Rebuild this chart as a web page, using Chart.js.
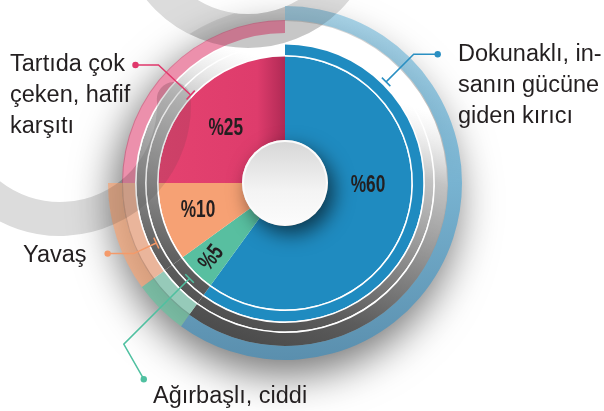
<!DOCTYPE html>
<html>
<head>
<meta charset="utf-8">
<script src="https://cdn.jsdelivr.net/npm/chart.js@4.4.0/dist/chart.umd.min.js"></script>
<style>
  html, body { margin: 0; padding: 0; background: #fff; }
  #wrap { width: 604px; height: 411px; position: relative; }
</style>
</head>
<body>
<div id="wrap"><canvas id="tones"></canvas></div>
<script>
// slices, clockwise from 12 o'clock
const categories = ['Dokunaklı, insanın gücüne giden kırıcı', 'Ağırbaşlı, ciddi', 'Yavaş', 'Tartıda çok çeken, hafif karşıtı'];
const shares = [60, 5, 10, 25];
const shareLabels = shares.map(v => '%' + v);
const captionLines = [
  ['Dokunaklı, in-', 'sanın gücüne', 'giden kırıcı'],
  ['Ağırbaşlı, ciddi'],
  ['Yavaş'],
  ['Tartıda çok', 'çeken, hafif', 'karşıtı']
];

const mainColors = ['#1f8bc0', '#58bfa0', '#f6a174', '#e23f70'];
const lineColors = ['#2a8fc2', '#4fc0a0', '#f49a6a', '#e0376b'];

const TWO_PI = Math.PI * 2;
const RAD = Math.PI / 180;

function centerOf(chart) {
  const a = chart.chartArea;
  return { x: (a.left + a.right) / 2, y: (a.top + a.bottom) / 2 };
}

function polar(c, deg, r) {
  return { x: c.x + r * Math.sin(deg * RAD), y: c.y - r * Math.cos(deg * RAD) };
}

function shadeVector(chart) {
  const c = centerOf(chart);
  return chart.ctx.createLinearGradient(c.x + 70, c.y - 150, c.x - 30, c.y + 160);
}

// gray "3d" shading under the rings, light top-right, dark bottom
function shade(chart) {
  if (!chart.chartArea) return '#bbb';
  const g = shadeVector(chart);
  g.addColorStop(0, 'rgba(255,255,255,0)');
  g.addColorStop(0.16, 'rgba(220,220,220,0)');
  g.addColorStop(0.36, 'rgba(190,190,190,0.92)');
  g.addColorStop(0.62, '#8c8c8c');
  g.addColorStop(0.85, '#5c5c5c');
  g.addColorStop(1, '#4c4c4c');
  return g;
}

function whiteLine(chart) {
  if (!chart.chartArea) return '#fff';
  const g = shadeVector(chart);
  g.addColorStop(0, 'rgba(255,255,255,0)');
  g.addColorStop(0.2, 'rgba(255,255,255,0)');
  g.addColorStop(0.4, '#ffffff');
  g.addColorStop(1, '#ffffff');
  return g;
}

function paleBlue(chart) {
  if (!chart.chartArea) return '#8cc3dd';
  const c = centerOf(chart);
  const g = chart.ctx.createLinearGradient(c.x, c.y - 177, c.x, c.y + 177);
  g.addColorStop(0, 'rgba(120,188,220,0.6)');
  g.addColorStop(0.5, '#78b3d1');
  g.addColorStop(1, '#5a8fae');
  return g;
}

function pinkMain(chart) {
  if (!chart.chartArea) return mainColors[3];
  const c = centerOf(chart);
  const g = chart.ctx.createLinearGradient(c.x - 126, 0, c.x, 0);
  g.addColorStop(0, '#e4426f');
  g.addColorStop(0.78, '#de3c6c');
  g.addColorStop(1, '#b02a55');
  return g;
}

const rings = [
  { weight: 14, color: (ch, i) => [paleBlue(ch), 'rgba(110,190,160,0.8)', 'rgba(242,165,122,0.75)', 'rgba(0,0,0,0)'][i] },
  { weight: 13, color: (ch, i) => [shade(ch), 'rgba(105,180,155,0.7)', 'rgba(225,150,112,0.7)', 'rgba(222,64,112,0.58)'][i] },
  { weight: 1.5, color: (ch) => whiteLine(ch) },
  { weight: 8.5, color: (ch) => shade(ch) },
  { weight: 1.5, color: (ch) => whiteLine(ch) },
  { weight: 10.5, color: (ch, i) => i === 0 ? mainColors[0] : shade(ch) },
  { weight: 1.5, color: (ch, i) => i === 0 ? '#ffffff' : whiteLine(ch) },
  { weight: 83.5, color: (ch, i) => i === 3 ? pinkMain(ch) : mainColors[i] }
];

// background decoration: two wide gray arcs behind the chart
function grayArcs(ctx, c, color) {
  ctx.save();
  ctx.strokeStyle = color;
  ctx.lineWidth = 34;
  ctx.lineCap = 'round';
  ctx.beginPath();
  ctx.arc(c.x - 37, -83, 114, 0, TWO_PI);
  ctx.stroke();
  ctx.beginPath();
  ctx.arc(60, 105, 114, -3 * RAD, 185 * RAD);
  ctx.stroke();
  ctx.restore();
}

const decor = {
  id: 'decor',
  beforeDatasetsDraw(chart) {
    const ctx = chart.ctx;
    const c = centerOf(chart);
    grayArcs(ctx, c, '#dcdcdc');
    // soft drop shadow outside the disc
    ctx.save();
    ctx.beginPath();
    ctx.rect(0, 0, chart.width, chart.height);
    ctx.arc(c.x, c.y, 162, 0, TWO_PI);
    ctx.clip('evenodd');
    ctx.shadowColor = 'rgba(0,0,0,0.55)';
    ctx.shadowBlur = 42;
    ctx.shadowOffsetX = 3000;
    ctx.shadowOffsetY = 20;
    ctx.beginPath();
    ctx.arc(c.x - 3000, c.y, 172, 0, TWO_PI);
    ctx.fillStyle = '#000';
    ctx.fill();
    ctx.restore();
  },
  afterDatasetsDraw(chart, args, opts) {
    const ctx = chart.ctx;
    const main = chart.getDatasetMeta(rings.length - 1);
    const c = { x: main.data[0].x, y: main.data[0].y };
    const r = main.data[0].innerRadius;

    // faint see-through of the gray arcs over the slices
    ctx.save();
    ctx.beginPath();
    ctx.arc(c.x, c.y, 177, 0, TWO_PI);
    ctx.clip();
    grayArcs(ctx, c, 'rgba(60,60,60,0.13)');
    ctx.restore();

    // center disc
    ctx.save();
    ctx.shadowColor = 'rgba(0,0,0,0.6)';
    ctx.shadowBlur = 20;
    ctx.shadowOffsetX = 6;
    ctx.shadowOffsetY = 8;
    ctx.beginPath();
    ctx.arc(c.x, c.y, r, 0, TWO_PI);
    ctx.fillStyle = '#fbfbfb';
    ctx.fill();
    ctx.restore();
    const face = ctx.createLinearGradient(c.x, c.y - r, c.x, c.y + r);
    face.addColorStop(0, '#d6d6d6');
    face.addColorStop(0.6, '#f4f4f4');
    face.addColorStop(1, '#fcfcfc');
    ctx.beginPath();
    ctx.arc(c.x, c.y, r - 2, 0, TWO_PI);
    ctx.fillStyle = face;
    ctx.fill();

    // percent labels, narrow bold face
    ctx.save();
    ctx.fillStyle = '#231f20';
    ctx.font = 'bold 24px "Liberation Sans", Arial, sans-serif';
    ctx.textAlign = 'center';
    ctx.textBaseline = 'middle';
    shareLabels.forEach((txt, i) => {
      const lp = opts.labelPos[i];
      const p = polar(c, lp.angle, lp.r);
      ctx.save();
      ctx.translate(p.x, p.y);
      ctx.rotate((lp.rot || 0) * RAD);
      ctx.scale(0.72, 1);
      ctx.fillText(txt, 0, 1);
      ctx.restore();
    });
    ctx.restore();

    // callout lines
    ctx.save();
    ctx.lineWidth = 1.5;
    opts.callouts.forEach((co, i) => {
      const a = polar(c, co.angle, co.r1);
      const b = polar(c, co.angle, co.r2);
      const e = { x: b.x + co.end[0], y: b.y + co.end[1] };
      const tx = Math.cos(co.angle * RAD) * 6, ty = Math.sin(co.angle * RAD) * 6;
      ctx.strokeStyle = lineColors[i];
      ctx.fillStyle = lineColors[i];
      ctx.beginPath();
      ctx.moveTo(a.x, a.y);
      ctx.lineTo(b.x, b.y);
      ctx.lineTo(e.x, e.y);
      ctx.moveTo(a.x - tx, a.y - ty);
      ctx.lineTo(a.x + tx, a.y + ty);
      ctx.stroke();
      ctx.beginPath();
      ctx.arc(e.x, e.y, 3.2, 0, TWO_PI);
      ctx.fill();
    });
    ctx.restore();

    // category captions
    ctx.save();
    ctx.fillStyle = '#231f20';
    ctx.font = '23.5px "Liberation Sans", Arial, sans-serif';
    ctx.textAlign = 'left';
    ctx.textBaseline = 'alphabetic';
    captionLines.forEach((lines, i) => {
      const cp = opts.captions[i];
      lines.forEach((ln, k) => ctx.fillText(ln, cp.x, cp.y + k * 31));
    });
    ctx.restore();
  }
};

new Chart(document.getElementById('tones'), {
  type: 'doughnut',
  data: {
    labels: categories,
    datasets: rings.map(rg => ({
      data: shares,
      weight: rg.weight,
      borderWidth: 0,
      backgroundColor: ctx => rg.color(ctx.chart, ctx.dataIndex)
    }))
  },
  options: {
    responsive: true,
    maintainAspectRatio: false,
    animation: false,
    events: [],
    cutout: 43,
    layout: { padding: { left: 108, right: 142, top: 6, bottom: 51 } },
    plugins: {
      legend: { display: false },
      tooltip: { enabled: false },
      decor: {
        labelPos: [
          { angle: 91, r: 83 },
          { angle: 225, r: 105, rot: -52 },
          { angle: 253, r: 91 },
          { angle: 313, r: 81 }
        ],
        callouts: [
          { angle: 45, r1: 143, r2: 182, end: [24, 0] },
          { angle: 225, r1: 135, r2: 228, end: [20, 35] },
          { angle: 245, r1: 142, r2: 167, end: [-26, 0] },
          { angle: 313, r1: 129, r2: 173, end: [-23, 0] }
        ],
        captions: [
          { x: 458, y: 61 },
          { x: 153, y: 403 },
          { x: 23, y: 262 },
          { x: 10, y: 71 }
        ]
      }
    }
  },
  plugins: [decor]
});
</script>
</body>
</html>
